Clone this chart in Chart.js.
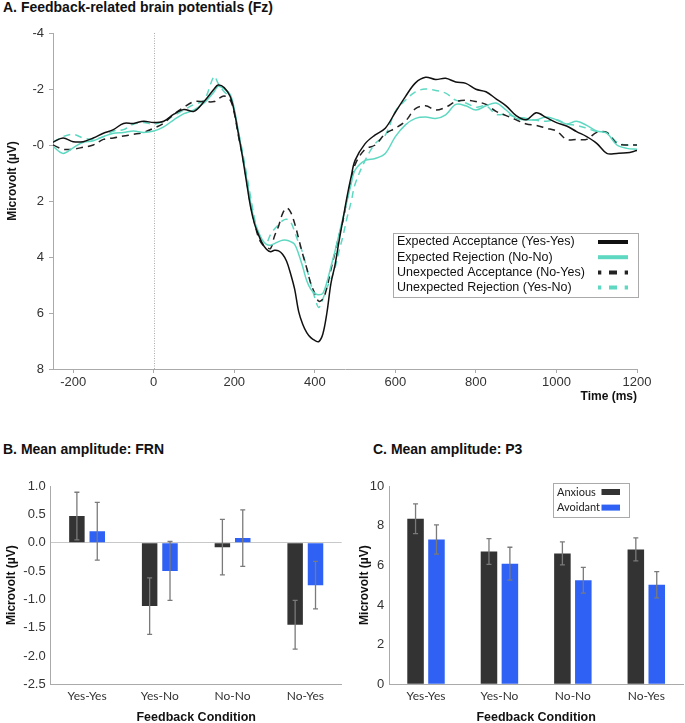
<!DOCTYPE html>
<html>
<head>
<meta charset="utf-8">
<script src="https://cdn.jsdelivr.net/npm/chart.js@4.4.1/dist/chart.umd.min.js"></script>
<style>
  body { margin: 0; background: #fff; font-family: 'Liberation Sans', Arial, sans-serif; }
  #page { position: relative; width: 685px; height: 723px; overflow: hidden; }
  .panel-title { position: absolute; font-weight: bold; font-size: 14px; line-height: 16px; color: #111; white-space: nowrap; }
  .box { position: absolute; }
  .ytitle { position: absolute; width: 120px; height: 14px; line-height: 14px; text-align: center;
            font-weight: bold; font-size: 12px; color: #111; transform: rotate(-90deg); }
</style>
</head>
<body>
<div id="page">
  <div class="panel-title" style="left:3px; top:-1px;">A. Feedback-related brain potentials (Fz)</div>
  <div class="box" style="left:0; top:0; width:685px; height:410px;"><canvas id="erp"></canvas></div>
  <div class="ytitle" style="left:-48px; top:174px;">Microvolt (µV)</div>

  <div class="panel-title" style="left:3px; top:441px;">B. Mean amplitude: FRN</div>
  <div class="box" style="left:0; top:400px; width:345px; height:323px;"><canvas id="frn"></canvas></div>

  <div class="panel-title" style="left:373px; top:441px;">C. Mean amplitude: P3</div>
  <div class="box" style="left:353px; top:400px; width:332px; height:323px;"><canvas id="p3"></canvas></div>
</div>

<script>
// ---- A: grand-average waveforms at Fz (µV, time in ms) ----
const times = [
  -250, -225, -200, -175, -150, -125, -100, -75, -50, -25, 0, 25, 50, 75, 100, 125, 150,
  160, 175, 190,
  200, 210, 220, 230, 240, 250, 260, 270, 280, 290,
  300, 310, 320, 330, 340, 350, 360, 370, 380, 390,
  400, 410, 420, 430, 440, 450, 460, 470, 480, 490, 500,
  525, 550, 575, 600, 625, 650, 675, 700, 725, 750, 775, 800, 825, 850, 875, 900,
  925, 950, 975, 1000, 1025, 1050, 1075, 1100, 1125, 1150, 1175, 1200
];
const expAcceptance = [   // Yes-Yes
  -0.1, -0.25, -0.12, -0.12, -0.25, -0.42, -0.55, -0.77, -0.77, -0.85, -0.8, -0.85, -1.1, -1.27, -1.2, -1.55, -2.0,
  -2.14, -2.05, -1.73,
  -1.2, -0.42, 0.38, 1.28, 2.17, 2.8, 3.2, 3.52, 3.72, 3.81,
  3.76, 3.78, 3.9, 4.15, 4.6, 5.15, 5.95, 6.4, 6.7, 6.88,
  6.98, 7.02, 6.75, 6.0, 4.95, 4.3, 3.45, 2.65, 1.85, 1.15, 0.55,
  -0.05, -0.36, -0.6, -1.17, -1.73, -2.22, -2.42, -2.34, -2.38, -2.25, -2.2, -1.99, -1.9, -1.65, -1.4, -1.05,
  -0.9, -1.15, -0.98, -0.8, -0.68, -0.48, -0.3, -0.06, 0.3, 0.3, 0.28, 0.2
];
const expRejection = [    // No-No
  0.05, 0.3, 0.1, -0.1, -0.15, -0.3, -0.42, -0.45, -0.5, -0.45, -0.5, -0.65, -0.9, -1.12, -1.25, -1.5, -1.9,
  -2.1, -2.0, -1.8,
  -1.3, -0.5, 0.3, 1.15, 2.0, 2.7, 3.1, 3.4, 3.55, 3.58,
  3.52, 3.45, 3.4, 3.4, 3.45, 3.55, 3.9, 4.35, 4.85, 5.15,
  5.3, 5.35, 5.3, 4.9, 4.35, 3.8, 3.2, 2.6, 2.0, 1.4, 0.9,
  0.55, 0.48, 0.3, -0.3, -0.72, -0.95, -1.0, -0.95, -1.08, -1.45, -1.4, -1.25, -1.4, -1.5, -1.25, -0.95,
  -0.9, -0.9, -1.0, -0.9, -0.75, -0.85, -0.7, -0.5, -0.42, 0.0, 0.12, 0.15
];
const unexpAcceptance = [ // No-Yes
  0.0, 0.15, 0.15, 0.08, 0.0, -0.2, -0.25, -0.32, -0.38, -0.45, -0.6, -0.78, -1.1, -1.35, -1.55, -1.55, -1.55,
  -1.65, -1.75, -1.6,
  -1.15, -0.35, 0.35, 1.2, 2.1, 2.75, 3.3, 3.55, 3.65, 3.7,
  3.25, 2.9, 2.45, 2.25, 2.4, 2.8, 3.35, 3.9, 4.4, 4.95,
  5.3, 5.58, 5.5, 5.1, 4.45, 3.85, 3.25, 2.7, 1.95, 1.3, 0.7,
  0.15, 0.0, -0.4, -0.6, -0.85, -1.3, -1.4, -1.25, -1.35, -1.55, -1.6, -1.55, -1.45, -1.2, -1.05, -0.9,
  -0.75, -0.7, -0.6, -0.5, -0.2, -0.2, -0.2, -0.45, -0.45, -0.05, 0.0, 0.0
];
const unexpRejection = [  // Yes-No
  -0.1, -0.3, -0.38, -0.25, -0.2, -0.3, -0.5, -0.55, -0.75, -0.8, -0.75, -0.85, -1.05, -1.25, -1.45, -1.6, -2.45,
  -2.2, -1.9, -1.7,
  -1.2, -0.5, 0.2, 1.0, 1.8, 2.6, 3.2, 3.5, 3.5, 3.2,
  3.0, 2.85, 2.7, 2.65, 2.75, 3.1, 3.5, 3.85, 4.4, 4.95,
  5.45, 5.8, 5.5, 5.1, 4.8, 4.4, 3.8, 3.25, 2.6, 2.05, 1.4,
  0.55, -0.05, -0.35, -1.2, -1.6, -1.9, -2.0, -1.95, -1.85, -1.6, -1.5, -1.35, -1.4, -1.1, -1.1, -1.0,
  -0.95, -0.88, -0.85, -0.9, -0.75, -0.7, -0.6, -0.48, -0.45, -0.1, 0.0, 0.0
];
const timeTicks = [-200, 0, 200, 400, 600, 800, 1000, 1200];

// ---- B / C: mean amplitudes by feedback condition ----
const conditions = ['Yes-Yes', 'Yes-No', 'No-No', 'No-Yes'];
const frnAnxious = [0.47, -1.12, -0.08, -1.45];
const frnAnxiousErr = [0.42, 0.5, 0.49, 0.43];
const frnAvoidant = [0.2, -0.5, 0.08, -0.75];
const frnAvoidantErr = [0.51, 0.52, 0.5, 0.42];
const p3Anxious = [8.35, 6.7, 6.6, 6.8];
const p3AnxiousErr = [0.75, 0.65, 0.58, 0.58];
const p3Avoidant = [7.3, 6.08, 5.25, 5.02];
const p3AvoidantErr = [0.74, 0.83, 0.65, 0.66];

const BLACK = '#111111', TEAL = '#5fd8c2', BAR_DARK = '#333333', BAR_BLUE = '#2f62f4';
const AXIS = '#aaaaaa';

Chart.defaults.font.family = "'Liberation Sans', Arial, sans-serif";
Chart.defaults.color = '#333';

const pts = arr => times.map((t, i) => ({x: t, y: arr[i]}));

// dotted line at stimulus onset
const onsetLine = {
  id: 'onsetLine',
  beforeDatasetsDraw(chart) {
    const {ctx, chartArea, scales} = chart;
    const x = Math.round(scales.x.getPixelForValue(0)) + 0.5;
    ctx.save();
    ctx.strokeStyle = '#aaa';
    ctx.lineWidth = 1;
    ctx.setLineDash([1, 1.5]);
    ctx.beginPath();
    ctx.moveTo(x, chartArea.top);
    ctx.lineTo(x, chartArea.bottom);
    ctx.stroke();
    ctx.restore();
  }
};

// boxed legend with swatches on the right of the labels
const erpLegend = {
  id: 'erpLegend',
  afterDraw(chart) {
    const {ctx, chartArea} = chart;
    const w = 245, h = 64;
    const left = chartArea.right - w + 1, top = chartArea.top + 200;
    ctx.save();
    ctx.fillStyle = '#fff';
    ctx.fillRect(left, top, w, h);
    ctx.strokeStyle = AXIS;
    ctx.lineWidth = 1;
    ctx.strokeRect(left + 0.5, top + 0.5, w, h);
    ctx.font = "12.5px 'Liberation Sans', Arial, sans-serif";
    ctx.textBaseline = 'middle';
    chart.data.datasets.forEach((ds, i) => {
      const y = top + 9 + i * 15.2;
      ctx.fillStyle = '#111';
      ctx.setLineDash([]);
      ctx.fillText(ds.label, left + 4, y);
      ctx.strokeStyle = ds.borderColor;
      ctx.lineWidth = 4;
      ctx.setLineDash(ds.borderDash ? [3.3, 7.7, 8, 7.7] : []);
      ctx.beginPath();
      ctx.moveTo(left + 205, y);
      ctx.lineTo(left + 235, y);
      ctx.stroke();
    });
    ctx.restore();
  }
};

const errorBars = {
  id: 'errorBars',
  afterDatasetsDraw(chart) {
    const {ctx, scales: {y}} = chart;
    ctx.save();
    ctx.strokeStyle = '#7a7a7a';
    ctx.lineWidth = 1.3;
    chart.data.datasets.forEach((ds, i) => {
      chart.getDatasetMeta(i).data.forEach((bar, j) => {
        const v = ds.data[j], e = ds.errors[j];
        const yHi = y.getPixelForValue(v + e), yLo = y.getPixelForValue(v - e);
        ctx.beginPath();
        ctx.moveTo(bar.x, yHi); ctx.lineTo(bar.x, yLo);
        ctx.moveTo(bar.x - 2.5, yHi); ctx.lineTo(bar.x + 2.5, yHi);
        ctx.moveTo(bar.x - 2.5, yLo); ctx.lineTo(bar.x + 2.5, yLo);
        ctx.stroke();
      });
    });
    ctx.restore();
  }
};

const p3Legend = {
  id: 'p3Legend',
  afterDraw(chart) {
    const {ctx, chartArea} = chart;
    const w = 76, h = 34;
    const left = chartArea.right - 130, top = chartArea.top - 3;
    ctx.save();
    ctx.fillStyle = '#fff';
    ctx.fillRect(left, top, w, h);
    ctx.strokeStyle = AXIS;
    ctx.lineWidth = 1;
    ctx.strokeRect(left + 0.5, top + 0.5, w, h);
    ctx.font = "11px Lato, 'Liberation Sans', sans-serif";
    ctx.textBaseline = 'middle';
    chart.data.datasets.forEach((ds, i) => {
      const y = top + 9 + i * 15.6;
      ctx.fillStyle = '#222';
      ctx.fillText(ds.label, left + 4, y);
      ctx.fillStyle = ds.backgroundColor;
      ctx.fillRect(left + 48.5, y - 3, 18.5, 6);
    });
    ctx.restore();
  }
};

// ---- Chart A ----
new Chart(document.getElementById('erp'), {
  type: 'line',
  data: {
    datasets: [
      {label: 'Expected Acceptance (Yes-Yes)', data: pts(expAcceptance), borderColor: BLACK, borderWidth: 1.5},
      {label: 'Expected Rejection (No-No)', data: pts(expRejection), borderColor: TEAL, borderWidth: 1.5},
      {label: 'Unexpected Acceptance (No-Yes)', data: pts(unexpAcceptance), borderColor: '#222', borderWidth: 1.5, borderDash: [7, 5]},
      {label: 'Unexpected Rejection (Yes-No)', data: pts(unexpRejection), borderColor: TEAL, borderWidth: 1.5, borderDash: [7, 5]},
    ]
  },
  options: {
    responsive: true,
    maintainAspectRatio: false,
    animation: false,
    elements: {point: {radius: 0}, line: {tension: 0.35}},
    layout: {padding: {top: 33, right: 48, left: 0, bottom: 0}},
    plugins: {legend: {display: false}, tooltip: {enabled: false}},
    scales: {
      x: {
        type: 'linear', min: -250, max: 1200,
        afterBuildTicks: s => { s.ticks = timeTicks.map(v => ({value: v})); },
        afterFit: s => { s.height = 41; },
        ticks: {callback: v => String(v), font: {size: 13}, color: '#333', padding: 2, maxRotation: 0},
        grid: {drawOnChartArea: false, color: AXIS, tickLength: 4},
        border: {color: AXIS},
        title: {display: true, text: 'Time (ms)', align: 'end', color: '#111',
                font: {size: 12, weight: 'bold'}, padding: {top: 0, bottom: 6}}
      },
      y: {
        reverse: true, min: -4, max: 8,
        afterFit: s => { s.width = 53; },
        ticks: {stepSize: 2, callback: v => (v === 0 ? '-0' : String(v)), font: {size: 13}, color: '#333', padding: 5},
        grid: {drawOnChartArea: false, color: AXIS, tickLength: 4},
        border: {color: AXIS}
      }
    }
  },
  plugins: [onsetLine, erpLegend]
});

// ---- shared bar options ----
function barOptions(yMin, yMax, step, fmt, yWidth, rightPad) {
  return {
    responsive: true,
    maintainAspectRatio: false,
    animation: false,
    layout: {padding: {top: 86, right: rightPad, left: 0, bottom: 0}},
    plugins: {legend: {display: false}, tooltip: {enabled: false}},
    scales: {
      x: {
        afterFit: s => { s.height = 38.7; },
        grid: {display: false, drawTicks: false},
        border: {color: AXIS},
        ticks: {font: {family: "Lato, 'Liberation Sans', sans-serif", size: 12}, color: '#333', padding: 5},
        title: {display: true, text: 'Feedback Condition', color: '#111',
                font: {size: 12.5, weight: 'bold'}, padding: {top: 0, bottom: -2}}
      },
      y: {
        min: yMin, max: yMax,
        afterFit: s => { s.width = yWidth; },
        ticks: {stepSize: step, callback: fmt, font: {size: 13}, color: '#333', padding: 5},
        grid: {drawTicks: false, color: c => (c.tick && c.tick.value === 0 && yMin < 0 ? '#c8c8c8' : 'rgba(0,0,0,0)')},
        border: {color: AXIS},
        title: {display: true, text: 'Microvolt (µV)', color: '#111',
                font: {size: 12, weight: 'bold'}, padding: {top: 4, bottom: 0}}
      }
    }
  };
}

// ---- Chart B ----
new Chart(document.getElementById('frn'), {
  type: 'bar',
  data: {
    labels: conditions,
    datasets: [
      {label: 'Anxious', data: frnAnxious, errors: frnAnxiousErr, backgroundColor: BAR_DARK,
       categoryPercentage: 0.56, barPercentage: 0.76},
      {label: 'Avoidant', data: frnAvoidant, errors: frnAvoidantErr, backgroundColor: BAR_BLUE,
       categoryPercentage: 0.56, barPercentage: 0.76}
    ]
  },
  options: barOptions(-2.5, 1.0, 0.5, v => v.toFixed(1), 50.7, 3.3),
  plugins: [errorBars]
});

// ---- Chart C ----
new Chart(document.getElementById('p3'), {
  type: 'bar',
  data: {
    labels: conditions,
    datasets: [
      {label: 'Anxious', data: p3Anxious, errors: p3AnxiousErr, backgroundColor: BAR_DARK,
       categoryPercentage: 0.57, barPercentage: 0.79},
      {label: 'Avoidant', data: p3Avoidant, errors: p3AvoidantErr, backgroundColor: BAR_BLUE,
       categoryPercentage: 0.57, barPercentage: 0.79}
    ]
  },
  options: barOptions(0, 10, 2, v => String(v), 36.3, 2),
  plugins: [errorBars, p3Legend]
});
</script>
</body>
</html>
